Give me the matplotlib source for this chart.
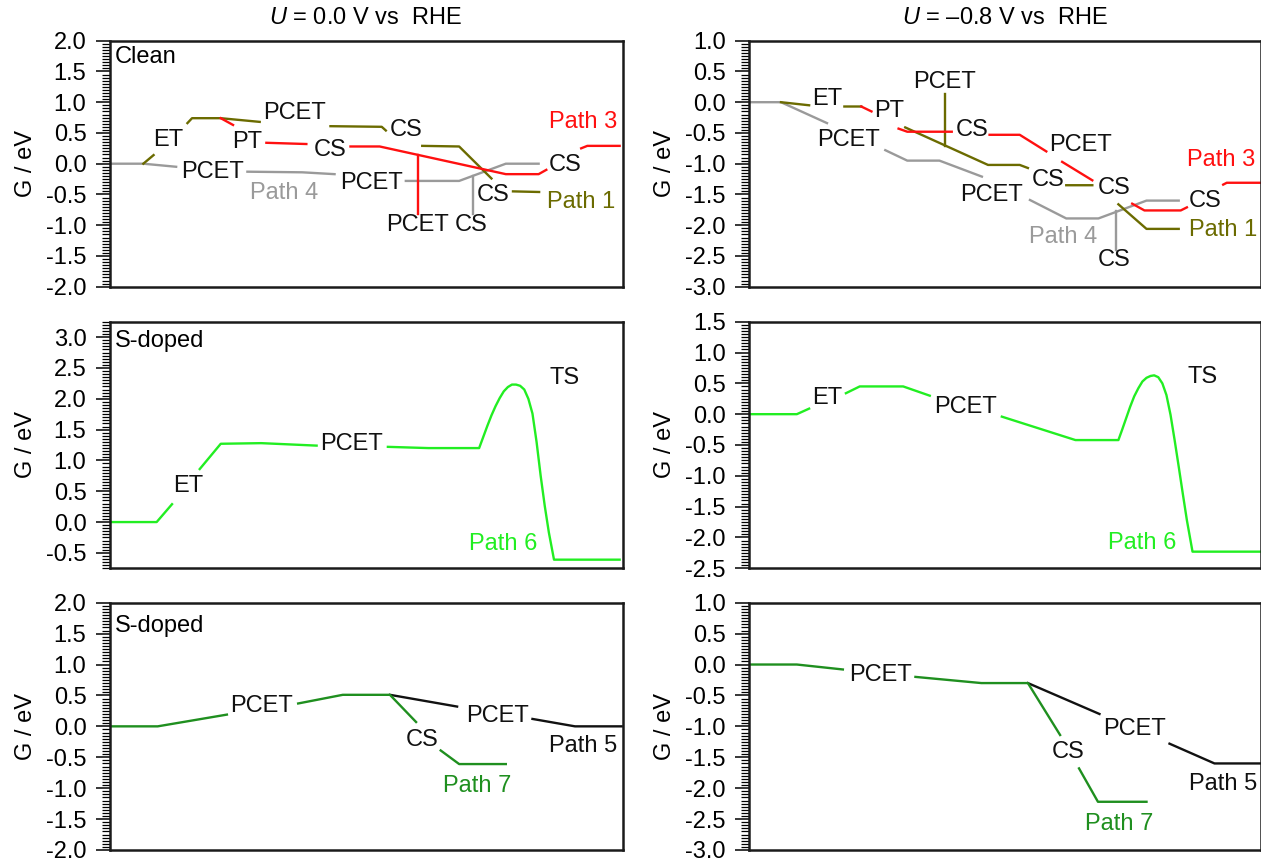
import numpy as np
import matplotlib
matplotlib.use('Agg')
import matplotlib.pyplot as plt
from matplotlib.ticker import MultipleLocator, FormatStrFormatter

plt.rcParams['font.family'] = ['Liberation Sans', 'DejaVu Sans']
plt.rcParams['axes.unicode_minus'] = False
plt.rcParams['mathtext.fontset'] = 'custom'
plt.rcParams['mathtext.rm'] = 'Liberation Sans'
plt.rcParams['mathtext.it'] = 'Liberation Sans:italic'

# ---- data (reaction coordinate 0-100, G in eV; None = gap for a label) ----
# clean, U = 0.0 V
c0_p4_x = [0, 6.5, 12.9, None, 26.8, 37.5, 43.8, None, 57.7, 68.1, 77.2, 83.6]
c0_p4_y = [0, 0, -0.05, None, -0.13, -0.14, -0.17, None, -0.28, -0.28, 0.0, 0.0]
c0_p1_x = [6.5, 8.5, None, 15.1, 16.0, 21.6, 29.2, None, 43.0, 53.0, 53.8, None,
           60.9, 68.1, 74.4, None, 78.6, 83.7]
c0_p1_y = [0, 0.14, None, 0.66, 0.74, 0.74, 0.68, None, 0.61, 0.60, 0.54, None,
           0.29, 0.28, -0.24, None, -0.45, -0.46]
c0_p3_x = [21.6, 24.0, None, 30.5, 38.3, None, 46.9, 52.6, 77.2, 83.6, 85.1, None,
           91.9, 93.1, 99.4]
c0_p3_y = [0.74, 0.63, None, 0.34, 0.32, None, 0.28, 0.28, -0.17, -0.17, -0.10, None,
           0.25, 0.29, 0.29]
c0_p4_drop = [70.8, -0.20, -0.81]
c0_p3_drop = [60.1, 0.14, -0.81]
c0_txt = ['ET', 'PCET', 'PT', 'CS', 'CS', 'PCET', 'PCET', 'PCET', 'CS', 'CS', 'CS']
c0_tx = [11.3, 35.9, 26.8, 43.0, 57.7, 20.0, 51.0, 59.9, 70.5, 74.8, 88.7]
c0_ty = [0.38, 0.82, 0.36, 0.22, 0.55, -0.13, -0.31, -1.0, -1.0, -0.51, -0.02]
c0_path_txt = ['Path 3', 'Path 1', 'Path 4']
c0_path_xy = [(92.3, 0.68), (91.9, -0.62), (33.9, -0.47)]

# clean, U = -0.8 V
c8_p4_x = [0, 6.2, 15.2, None, 26.6, 30.9, 37.2, 45.5, None, 54.9, 62.0, 68.3, 77.7, 84.0]
c8_p4_y = [0, 0, -0.34, None, -0.78, -0.95, -0.95, -1.21, None, -1.59, -1.89, -1.89, -1.60, -1.60]
c8_p1_x = [6.2, 11.7, None, 18.6, 21.9, None, 30.5, 46.7, 52.9, 54.5, None,
           62.0, 67.1, None, 72.2, 77.7, 84.0]
c8_p1_y = [0, -0.05, None, -0.07, -0.07, None, -0.41, -1.02, -1.02, -1.07, None,
           -1.35, -1.35, None, -1.66, -2.06, -2.06]
c8_p3_x = [21.9, 23.9, None, 29.2, 30.9, 39.6, None, 47.0, 52.9, 58.1, None,
           61.2, 67.1, None, 74.9, 77.3, 84.4, 85.6, None, 92.7, 93.4, 100]
c8_p3_y = [-0.07, -0.15, None, -0.43, -0.48, -0.48, None, -0.53, -0.53, -0.80, None,
           -0.97, -1.27, None, -1.65, -1.76, -1.76, -1.71, None, -1.34, -1.31, -1.31]
c8_p4_drop = [71.8, -1.77, -2.40]
c8_p1_drop = [38.2, 0.14, -0.71]
c8_txt = ['ET', 'PT', 'PCET', 'CS', 'PCET', 'PCET', 'CS', 'CS', 'PCET', 'CS', 'CS']
c8_tx = [15.2, 27.4, 38.2, 43.5, 19.5, 64.7, 58.5, 71.4, 47.4, 89.1, 71.4]
c8_ty = [0.06, -0.15, 0.33, -0.45, -0.62, -0.70, -1.27, -1.40, -1.51, -1.61, -2.57]
c8_path_txt = ['Path 3', 'Path 1', 'Path 4']
c8_path_xy = [(92.3, -0.94), (92.7, -2.08), (61.4, -2.19)]

# S-doped, path 6 (TS curve traced point by point)
s0_p6_x = [0, 9.1, 12.1, None, 17.5, 21.6, 29.5, 40.3, None, 54.2, 62.1,
           72.0, 72.8, 73.6, 74.4, 75.2, 76.0, 76.8, 77.6, 78.4, 79.2, 80.0, 80.8,
           81.6, 82.4, 83.2, 84.0, 84.8, 85.6, 86.6, 99.4]
s0_p6_y = [0, 0, 0.29, None, 0.86, 1.27, 1.28, 1.24, None, 1.22, 1.20,
           1.20, 1.38, 1.56, 1.73, 1.88, 2.01, 2.12, 2.19, 2.23, 2.23, 2.21, 2.15,
           2.00, 1.76, 1.30, 0.75, 0.26, -0.17, -0.61, -0.61]
s0_txt = ['ET', 'PCET', 'TS']
s0_tx = [15.3, 47.2, 88.7]
s0_ty = [0.58, 1.27, 2.33]
s8_p6_x = [0, 9.3, 11.7, None, 18.9, 21.6, 30.1, 35.3, None, 49.4, 63.8,
           72.2, 72.9, 73.7, 74.5, 75.3, 76.1, 76.9, 77.7, 78.5, 79.2, 80.0, 80.8,
           81.6, 82.4, 83.2, 84.0, 84.8, 85.6, 86.7, 100]
s8_p6_y = [0, 0, 0.09, None, 0.34, 0.45, 0.45, 0.30, None, -0.04, -0.42,
           -0.42, -0.26, -0.07, 0.12, 0.29, 0.42, 0.53, 0.59, 0.62, 0.63, 0.60, 0.50,
           0.31, -0.01, -0.42, -0.85, -1.29, -1.72, -2.23, -2.23]
s8_txt = ['ET', 'PCET', 'TS']
s8_tx = [15.2, 42.3, 88.7]
s8_ty = [0.26, 0.12, 0.61]

# S-doped, paths 5 and 7
t0_p7_x = [0, 9.3, 22.8, None, 36.7, 45.4, 54.6, 59.7, None, 64.5, 68.1, 77.2]
t0_p7_y = [0, 0, 0.19, None, 0.37, 0.51, 0.51, 0.07, None, -0.39, -0.61, -0.61]
t0_p5_x = [54.6, 67.7, None, 82.4, 90.7, 99.8]
t0_p5_y = [0.51, 0.32, None, 0.12, 0.0, 0.0]
t0_txt = ['PCET', 'CS', 'PCET']
t0_tx = [29.5, 60.9, 75.6]
t0_ty = [0.33, -0.22, 0.16]
t8_p7_x = [0, 9.3, 18.3, None, 32.5, 45.4, 54.5, 60.8, None, 64.5, 68.2, 77.7]
t8_p7_y = [0, 0, -0.08, None, -0.20, -0.30, -0.30, -1.14, None, -1.68, -2.22, -2.22]
t8_p5_x = [54.5, 68.5, None, 82.2, 91.0, 100]
t8_p5_y = [-0.30, -0.80, None, -1.28, -1.60, -1.60]
t8_txt = ['PCET', 'CS', 'PCET']
t8_tx = [25.6, 62.3, 75.3]
t8_ty = [-0.17, -1.41, -1.05]

OLIVE = '#6b6b00'
RED = '#ff1010'
GREY = '#9a9a9a'
LIME = '#22ee22'
DKGREEN = '#1f8f1f'
FS = 17


def arr(v):
    return np.array(v, dtype=float)


def setup(ax, ylim):
    ax.set_xlim(0, 100)
    ax.set_ylim(*ylim)
    ax.yaxis.set_major_locator(MultipleLocator(0.5))
    ax.yaxis.set_minor_locator(MultipleLocator(0.05))
    ax.yaxis.set_major_formatter(FormatStrFormatter('%.1f'))
    ax.tick_params(axis='y', which='major', direction='out', length=10, width=1.1,
                   labelsize=FS, pad=7)
    ax.tick_params(axis='y', which='minor', direction='out', length=5.5, width=0.9)
    ax.set_xticks([])
    for s in ax.spines.values():
        s.set_linewidth(1.8)
        s.set_color('#1a1a1a')
    ax.set_ylabel('G / eV', fontsize=FS)
    ax.yaxis.set_label_coords(-0.143, 0.5)


def line(ax, x, y, c):
    ax.plot(arr(x), arr(y), color=c, lw=1.7, solid_joinstyle='round')


def drop(ax, d, c):
    ax.plot([d[0], d[0]], [d[1], d[2]], color=c, lw=1.7)


def labels(ax, txt, tx, ty, c='#111111'):
    for t, x, y in zip(txt, tx, ty):
        ax.text(x, y, t, fontsize=FS, color=c, ha='center', va='center')


fig = plt.figure(figsize=(12.61, 8.58), dpi=100)
L, R, W = 110 / 1261, 749.3 / 1261, 512.7 / 1261
WR = 511.2 / 1261
rows = [(1 - 286.7 / 858, 246 / 858), (1 - 568.3 / 858, 246.6 / 858), (1 - 850 / 858, 247.3 / 858)]

axs = []
for b, h in rows:
    axs.append((fig.add_axes([L, b, W, h]), fig.add_axes([R, b, WR, h])))

# row 1: clean
ax = axs[0][0]
setup(ax, (-2, 2))
line(ax, c0_p4_x, c0_p4_y, GREY)
drop(ax, c0_p4_drop, GREY)
line(ax, c0_p1_x, c0_p1_y, OLIVE)
line(ax, c0_p3_x, c0_p3_y, RED)
drop(ax, c0_p3_drop, RED)
labels(ax, c0_txt, c0_tx, c0_ty)
for t, (x, y), c in zip(c0_path_txt, c0_path_xy, [RED, OLIVE, GREY]):
    ax.text(x, y, t, fontsize=FS, color=c, ha='center', va='center')
ax.text(1.0, 1.73, 'Clean', fontsize=FS, ha='left', va='center')

ax = axs[0][1]
setup(ax, (-3, 1))
line(ax, c8_p4_x, c8_p4_y, GREY)
drop(ax, c8_p4_drop, GREY)
line(ax, c8_p1_x, c8_p1_y, OLIVE)
drop(ax, c8_p1_drop, OLIVE)
line(ax, c8_p3_x, c8_p3_y, RED)
labels(ax, c8_txt, c8_tx, c8_ty)
for t, (x, y), c in zip(c8_path_txt, c8_path_xy, [RED, OLIVE, GREY]):
    ax.text(x, y, t, fontsize=FS, color=c, ha='center', va='center')

# row 2: S-doped, path 6
ax = axs[1][0]
setup(ax, (-0.75, 3.25))
line(ax, s0_p6_x, s0_p6_y, LIME)
labels(ax, s0_txt, s0_tx, s0_ty)
ax.text(76.6, -0.36, 'Path 6', fontsize=FS, color=LIME, ha='center', va='center')
ax.text(1.0, 2.94, 'S-doped', fontsize=FS, ha='left', va='center')

ax = axs[1][1]
setup(ax, (-2.5, 1.5))
line(ax, s8_p6_x, s8_p6_y, LIME)
labels(ax, s8_txt, s8_tx, s8_ty)
ax.text(76.9, -2.09, 'Path 6', fontsize=FS, color=LIME, ha='center', va='center')

# row 3: S-doped, paths 5 and 7
ax = axs[2][0]
setup(ax, (-2, 2))
line(ax, t0_p5_x, t0_p5_y, '#111111')
line(ax, t0_p7_x, t0_p7_y, DKGREEN)
labels(ax, t0_txt, t0_tx, t0_ty)
ax.text(71.6, -0.97, 'Path 7', fontsize=FS, color=DKGREEN, ha='center', va='center')
ax.text(92.3, -0.31, 'Path 5', fontsize=FS, color='#111111', ha='center', va='center')
ax.text(1.0, 1.63, 'S-doped', fontsize=FS, ha='left', va='center')

ax = axs[2][1]
setup(ax, (-3, 1))
line(ax, t8_p5_x, t8_p5_y, '#111111')
line(ax, t8_p7_x, t8_p7_y, DKGREEN)
labels(ax, t8_txt, t8_tx, t8_ty)
ax.text(72.4, -2.58, 'Path 7', fontsize=FS, color=DKGREEN, ha='center', va='center')
ax.text(92.6, -1.93, 'Path 5', fontsize=FS, color='#111111', ha='center', va='center')

fig.text(366 / 1261, 1 - 18 / 858, r'$\it{U}$ = 0.0 V vs  RHE', fontsize=FS,
         ha='center', va='center')
fig.text(1005 / 1261, 1 - 18 / 858, r'$\it{U}$ = –0.8 V vs  RHE', fontsize=FS,
         ha='center', va='center')

fig.savefig('out.png', dpi=100)
